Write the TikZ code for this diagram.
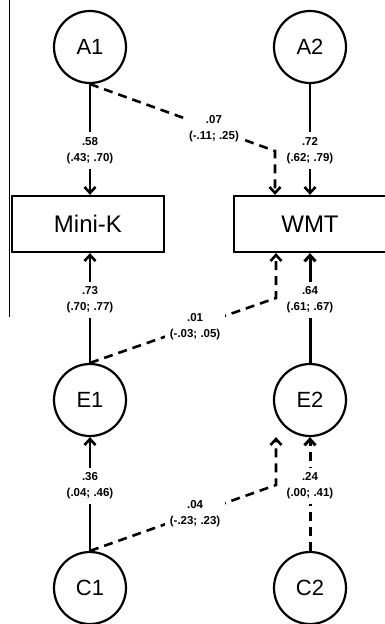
\documentclass[tikz,border=0pt]{standalone}
\usepackage{fontspec}
\setmainfont{Liberation Sans}
\usetikzlibrary{arrows.meta}

\begin{document}
\begin{tikzpicture}[x=1pt,y=-1pt]
\tikzset{f/.style={circle,draw,line width=2.2pt,minimum size=72pt,inner sep=0pt,font=\fontsize{22}{22}\selectfont}}
\tikzset{o/.style={rectangle,draw,line width=2.2pt,minimum width=152pt,minimum height=56pt,inner sep=0pt,font=\fontsize{24}{24}\selectfont}}
\tikzset{p/.style={line width=2.6pt,-{Straight Barb[length=6pt,width=11pt]}}}
\tikzset{q/.style={p,dash pattern=on 9pt off 6pt}}
\tikzset{w/.style={fill=white,inner sep=5pt,align=center,font=\fontsize{11.5}{16}\selectfont\bfseries}}

\clip (0,0) rectangle (385,624);

\path (90,47) node[f] (a1) {A1};
\path (310,47) node[f] (a2) {A2};
\path (88,224) node[o] (mk) {Mini-K};
\path (310,224) node[o] (wmt) {WMT};
\path (90,400) node[f] (e1) {E1};
\path (310,400) node[f] (e2) {E2};
\path (90,588) node[f] (c1) {C1};
\path (310,588) node[f] (c2) {C2};

\coordinate (k1) at (275,151);
\coordinate (k2) at (276,298);
\coordinate (k3) at (276,485);

\draw[line width=0.8pt] (9,0) -- (9,317);

\draw[p] (a1) -- node[w,pos=0.6] {.58\\(.43; .70)} (a1 |- mk.north);
\draw[p] (a2) -- node[w,pos=0.6] {.72\\(.62; .79)} (wmt);
\draw[q] (a1.south) -- node[w,pos=0.67] {.07\\(-.11; .25)} (k1) -- (k1 |- wmt.north);
\draw[p] (e1) -- node[w,pos=0.575] {.73\\(.70; .77)} (e1 |- mk.south);
\draw[p,line width=3pt] (e2) -- node[w,pos=0.575] {.64\\(.61; .67)} (wmt);
\draw[q] (e1.north) -- node[w,pos=0.565] {.01\\(-.03; .05)} (k2) -- (k2 |- wmt.south);
\draw[p] (c1) -- node[w,pos=0.57] {.36\\(.04; .46)} (e1);
\draw[q,line width=3pt] (c2) -- node[w,pos=0.57] {.24\\(.00; .41)} (e2);
\draw[q] (c1.north) -- node[w,pos=0.565] {.04\\(-.23; .23)} (k3) -- (k3 |- e2.south);

\end{tikzpicture}
\end{document}
